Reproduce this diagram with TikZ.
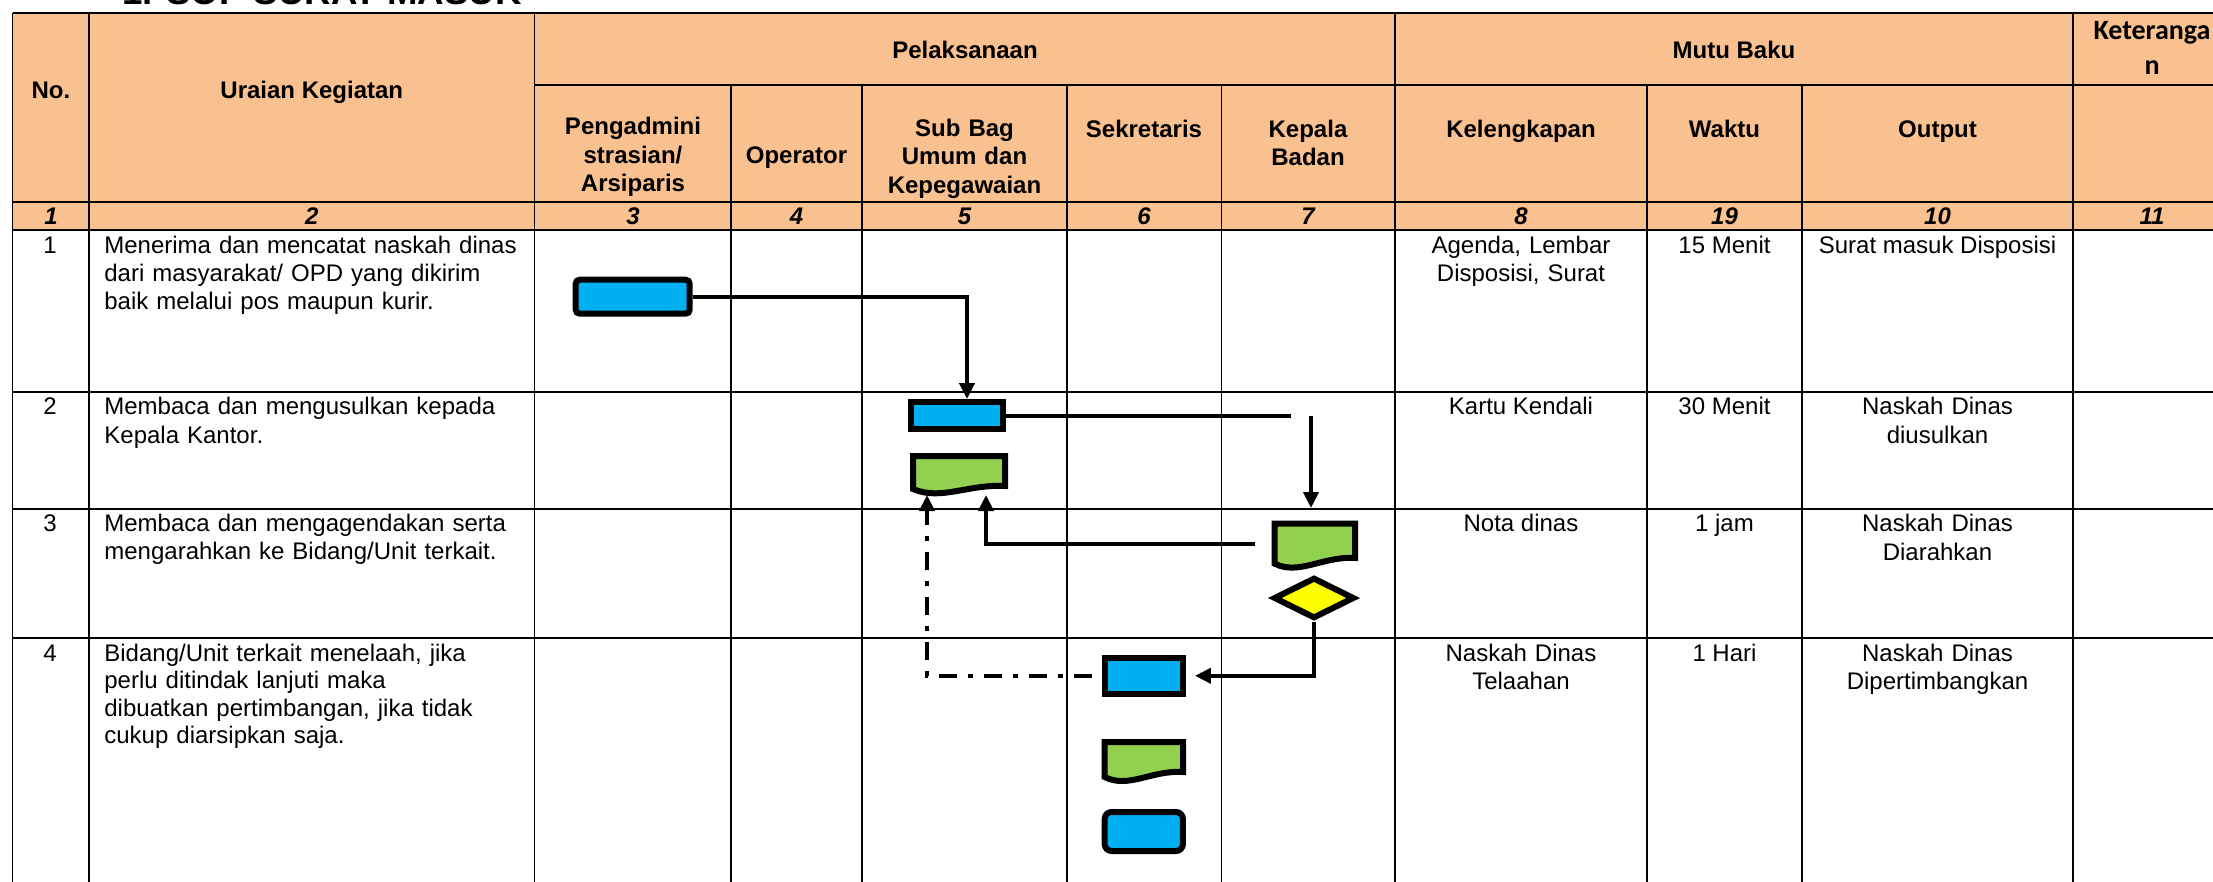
\documentclass[tikz,border=0pt]{standalone}
\usepackage{fontspec}
\setmainfont{Liberation Sans}
\newfontfamily\calibfont{Carlito}
\usetikzlibrary{arrows.meta,shapes.geometric,calc}
\definecolor{hdrfill}{RGB}{249,192,144}
\definecolor{procblue}{HTML}{00B0F0}
\definecolor{docgreen}{HTML}{92D050}
\definecolor{decyellow}{HTML}{FFFF00}
\newcommand\jline[2]{\makebox[#1][s]{#2}}
\newcommand\docpath[2]{%
  \draw[docline] (#1.north west) -- (#1.north east) -- ($(#1.south east)+(0,-#2)$)
    .. controls ($(#1.south west)!0.6!(#1.south east)+(0,-#2-2)$) and ($(#1.south west)!0.3!(#1.south east)+(0,12)$) .. (#1.south west) -- cycle;}
\begin{document}
\begin{tikzpicture}[x=0.5pt,y=-0.5pt,
  hline/.style={line width=1pt},
  vline/.style={line width=0.8pt},
  hd/.style={font=\fontsize{12}{14.15}\selectfont\bfseries, align=center, inner sep=0pt, anchor=base},
  numtxt/.style={font=\fontsize{12}{14}\selectfont\bfseries\itshape, inner sep=0pt, anchor=base},
  celltxt/.style={font=\fontsize{12}{14.2}\selectfont, align=center, inner sep=0pt, anchor=base},
  desc/.style={font=\fontsize{12}{14.1}\selectfont, align=left, inner sep=0pt, anchor=base west, text width=207.5pt},
  procbox/.style={rectangle, draw=black, line width=3pt, fill=procblue, inner sep=0pt},
  docbody/.style={rectangle, inner sep=0pt, outer sep=0pt},
  docline/.style={draw=black, line width=3pt, fill=docgreen, line join=miter},
  decbox/.style={diamond, draw=black, line width=3pt, fill=decyellow, inner sep=0pt},
  conn/.style={line width=2pt},
  arr/.style={-{Triangle[length=8pt,width=7.5pt]}},
  dashdot/.style={line width=2pt, dash pattern=on 9pt off 5.5pt on 2.5pt off 5.5pt}
]
\useasboundingbox (0,0) rectangle (2213,882);
\clip (0,0) rectangle (2213,882);
% header fill
\fill[hdrfill] (12.6,12.7) rectangle (2240,230);
% horizontal grid lines
\draw[hline] (12.6,12.7) -- (2240,12.7);
\draw[hline] (534.6,85) -- (2240,85);
\foreach \yy in {201.7,230,392,509,638} \draw[hline] (12.6,\yy) -- (2240,\yy);
% vertical grid lines
\foreach \xx in {12.6,89,534.6,1395,2073} \draw[vline] (\xx,12.7) -- (\xx,900);
\foreach \xx in {731,862,1067,1221.5,1647,1802} \draw[vline] (\xx,85) -- (\xx,900);

% title
\node[font=\fontsize{18.3}{22}\selectfont\bfseries, anchor=base west, inner sep=0pt] (title) at (122,4.5) {1. SOP SURAT MASUK};

% header texts
\node[hd] (hNo) at (51,98.3) {No.};
\node[hd] (hUraian) at (311.8,98.3) {Uraian Kegiatan};
\node[hd] (hPel) at (965,58.3) {Pelaksanaan};
\node[hd] (hMutu) at (1734,58.3) {Mutu Baku};
\node[font=\calibfont\fontsize{14}{17.5}\selectfont\bfseries, align=center, inner sep=0pt, anchor=base, text width=75pt] (hKet) at (2152,40) {Keteranga\\n};
\node[hd, text width=90pt] (hPeng) at (633,135) {Pengadmini\\strasian/\\Arsiparis};
\node[hd] (hOp) at (796.5,163.3) {Operator};
\node[hd, text width=90pt] (hSub) at (964.5,136.7) {Sub Bag\\Umum dan\\Kepegawaian};
\node[hd] (hSek) at (1144,137.3) {Sekretaris};
\node[hd, text width=80pt] (hKep) at (1308,137.3) {Kepala\\Badan};
\node[hd] (hKel) at (1521,137.3) {Kelengkapan};
\node[hd] (hWak) at (1724.5,137.3) {Waktu};
\node[hd] (hOut) at (1937.5,137.3) {Output};

% number row
\node[numtxt] (n1) at (51,224.5) {1};
\node[numtxt] (n2) at (311.8,224.5) {2};
\node[numtxt] (n3) at (633,224.5) {3};
\node[numtxt] (n4) at (796.5,224.5) {4};
\node[numtxt] (n5) at (964.5,224.5) {5};
\node[numtxt] (n6) at (1144,224.5) {6};
\node[numtxt] (n7) at (1308,224.5) {7};
\node[numtxt] (n8) at (1521,224.5) {8};
\node[numtxt] (n9) at (1724.5,224.5) {19};
\node[numtxt] (n10) at (1937.5,224.5) {10};
\node[numtxt] (n11) at (2152,224.5) {11};

% row numbers
\node[celltxt] (r1) at (50,253.3) {1};
\node[celltxt] (r2) at (50,415) {2};
\node[celltxt] (r3) at (50,531.7) {3};
\node[celltxt] (r4) at (50,661.5) {4};

% descriptions
\node[desc] (t1) at (104,253.3) {\jline{\linewidth}{Menerima dan mencatat naskah dinas}\\\jline{\linewidth}{dari masyarakat/ OPD yang dikirim}\\baik melalui pos maupun kurir.};
\node[desc] (t2) at (104,415) {\jline{\linewidth}{Membaca dan mengusulkan kepada}\\Kepala Kantor.};
\node[desc] (t3) at (104,531.7) {\jline{\linewidth}{Membaca dan mengagendakan serta}\\\jline{200.5pt}{mengarahkan ke Bidang/Unit terkait.}};
\node[desc, font=\fontsize{12}{13.7}\selectfont] (t4) at (104,661.5) {\jline{\linewidth}{Bidang/Unit terkait menelaah, jika}\\perlu ditindak lanjuti maka\\dibuatkan pertimbangan, jika tidak\\cukup diarsipkan saja.};

% mutu baku cells
\node[celltxt, text width=120pt] (k1t) at (1521,253.3) {Agenda, Lembar\\Disposisi, Surat};
\node[celltxt] (w1t) at (1724.5,253.3) {15 Menit};
\node[celltxt] (o1t) at (1937.5,253.3) {Surat masuk Disposisi};
\node[celltxt] (k2t) at (1521,415) {Kartu Kendali};
\node[celltxt] (w2t) at (1724.5,415) {30 Menit};
\node[celltxt, text width=125pt] (o2t) at (1937.5,415) {Naskah Dinas\\diusulkan};
\node[celltxt] (k3t) at (1521,531.7) {Nota dinas};
\node[celltxt] (w3t) at (1724.5,531.7) {1 jam};
\node[celltxt, text width=125pt] (o3t) at (1937.5,531.7) {Naskah Dinas\\Diarahkan};
\node[celltxt, text width=120pt] (k4t) at (1521,661.5) {Naskah Dinas\\Telaahan};
\node[celltxt] (w4t) at (1724.5,661.5) {1 Hari};
\node[celltxt, text width=125pt] (o4t) at (1937.5,661.5) {Naskah Dinas\\Dipertimbangkan};

% flowchart symbols
\node[procbox, rounded corners=2pt, minimum width=57pt, minimum height=17pt] (b1) at (632.7,296.7) {};
\node[procbox, minimum width=46pt, minimum height=13.65pt] (b2) at (957,415.7) {};
\node[procbox, minimum width=39.15pt, minimum height=17.85pt] (b3) at (1143.8,675.8) {};
\node[procbox, rounded corners=3.5pt, minimum width=39.15pt, minimum height=19.5pt] (b4) at (1143.8,831.5) {};
\node[docbody, minimum width=46pt, minimum height=16.5pt] (g1) at (959,472.5) {};
\docpath{g1}{3}
\node[docbody, minimum width=40.15pt, minimum height=20pt] (g2) at (1314.85,543.7) {};
\docpath{g2}{5.7}
\node[docbody, minimum width=39.15pt, minimum height=17.5pt] (g3) at (1143.85,759.5) {};
\docpath{g3}{5}
\node[decbox, minimum width=40.5pt, minimum height=20.6pt] (dc) at (1314,598) {};

% connectors
\draw[conn,arr] (b1.east) -| ([xshift=5pt]b2.north);
\coordinate (e2) at (1291,415.7);
\draw[conn] (b2.east) -- (e2);
\coordinate (s3) at (1311,415.7);
\coordinate (e3) at (1311,508);
\draw[conn,arr] (s3) -- (e3);
\coordinate (g1b) at (986,495);
\draw[conn,arr] ($(g2.west)+(-19.7,0)$) -| (g1b);
\draw[conn,arr,shorten >=4.5pt] (dc.south) |- (b3.east);
\coordinate (g1a) at (927,495);
\draw[dashdot,arr] ($(b3.west)+(-10,0)$) -| (g1a);
\end{tikzpicture}
\end{document}
